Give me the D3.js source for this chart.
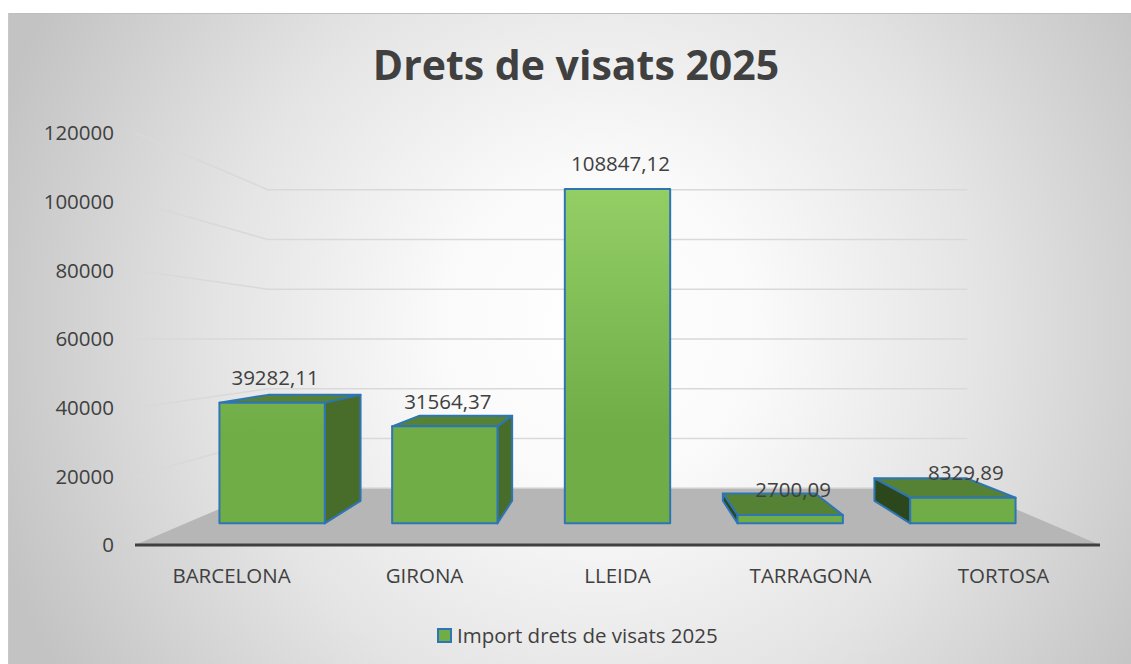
<!DOCTYPE html>
<html>
<head>
<meta charset="utf-8">
<script src="https://cdn.jsdelivr.net/npm/d3@7"></script>
<style>
  body { margin: 0; background: #fff; }
  text { font-family: "Open Sans", sans-serif; fill: #404040; }
</style>
</head>
<body>
<div id="chart"></div>
<script>
// Dades
const categories = ["BARCELONA", "GIRONA", "LLEIDA", "TARRAGONA", "TORTOSA"];
const values = [39282.11, 31564.37, 108847.12, 2700.09, 8329.89];
const yTicks = [0, 20000, 40000, 60000, 80000, 100000, 120000];
const seriesName = "Import drets de visats 2025";
const title = "Drets de visats 2025";

const W = 1131, H = 664;

// front plane of the 3D box
const left = 135, right = 1100, floorY = 545;
const backScale = 0.725;              // size of back wall relative to front
const depthK = 1 / backScale - 1;
const zFront = 0.31, zBack = 0.72;    // bar depth inside the floor

const svg = d3.select("#chart").append("svg")
  .attr("width", W).attr("height", H);

const defs = svg.append("defs");

const bg = defs.append("radialGradient")
  .attr("id", "bg-grad")
  .attr("gradientUnits", "userSpaceOnUse")
  .attr("cx", 600).attr("cy", 330).attr("r", 640);
[[0, "#ffffff"], [0.25, "#fafafa"], [0.6, "#e4e4e4"], [1, "#c3c3c3"]].forEach(([o, c]) => {
  bg.append("stop").attr("offset", o).attr("stop-color", c);
});

const frontGrad = defs.append("linearGradient")
  .attr("id", "front-grad")
  .attr("gradientUnits", "userSpaceOnUse")
  .attr("x1", 0).attr("x2", 0).attr("y1", 185).attr("y2", 430);
frontGrad.append("stop").attr("offset", 0).attr("stop-color", "#94cf66");
frontGrad.append("stop").attr("offset", 1).attr("stop-color", "#70ad47");

// Background
svg.append("rect")
  .attr("x", 8).attr("y", 13)
  .attr("width", W - 8).attr("height", H - 13)
  .attr("fill", "url(#bg-grad)");
svg.append("line")
  .attr("x1", 8).attr("x2", W).attr("y1", 13.5).attr("y2", 13.5)
  .attr("stroke", "#bfbfbf").attr("stroke-width", 1);
svg.append("line")
  .attr("x1", 8.5).attr("x2", 8.5).attr("y1", 13).attr("y2", H)
  .attr("stroke", "#c8c8c8").attr("stroke-width", 1);

// Scales
const x = d3.scaleBand()
  .domain(categories)
  .range([left, right])
  .paddingInner(0.39)
  .paddingOuter(0.195);

const y = d3.scaleLinear()
  .domain([0, 120000])
  .range([0, floorY - 133]);

const vx = (left + right) / 2;
const vy = floorY - y(60000);

// world (X, height, depth) -> screen
function proj(X, h, z) {
  const s = 1 / (1 + depthK * z);
  return [vx + (X - vx) * s, vy + (floorY - h - vy) * s];
}

const line = d3.line();

// Floor
svg.append("path")
  .attr("d", line([proj(left, 0, 0), proj(left, 0, 1), proj(right, 0, 1), proj(right, 0, 0)]) + "Z")
  .attr("fill", "#b6b6b6");
svg.append("path")
  .attr("d", line([proj(left, 0, 1), proj(right, 0, 1)]))
  .attr("stroke", "#cfcfcf").attr("stroke-width", 1.5).attr("fill", "none");

// Gridlines: left wall + back wall
yTicks.filter(t => t > 0).forEach(t => {
  svg.append("path")
    .attr("d", line([proj(left, y(t), 0), proj(left, y(t), 1), proj(right, y(t), 1)]))
    .attr("fill", "none")
    .attr("stroke", "#d9d9d9")
    .attr("stroke-width", 1.5);
});

// Axis line
svg.append("line")
  .attr("x1", left).attr("x2", right)
  .attr("y1", floorY).attr("y2", floorY)
  .attr("stroke", "#404040").attr("stroke-width", 3);

// Y labels
svg.selectAll(".ytick")
  .data(yTicks)
  .join("text")
  .attr("class", "ytick")
  .attr("x", 114)
  .attr("y", d => floorY - y(d))
  .attr("dy", "0.36em")
  .attr("text-anchor", "end")
  .attr("font-size", 20.5)
  .text(d => d);

// Bars
const outline = "#2e75b6";
const bars = svg.append("g");

categories.forEach((c, i) => {
  const h = y(values[i]);
  const x0 = x(c), x1 = x(c) + x.bandwidth();
  const g = bars.append("g");

  // top face, only when under eye level
  if (floorY - h > vy) {
    g.append("path")
      .attr("d", line([proj(x0, h, zFront), proj(x1, h, zFront), proj(x1, h, zBack), proj(x0, h, zBack)]) + "Z")
      .attr("fill", "#558234")
      .attr("stroke", outline).attr("stroke-width", 2).attr("stroke-linejoin", "round");
  }
  // side faces
  if (x1 < vx) {
    g.append("path")
      .attr("d", line([proj(x1, 0, zFront), proj(x1, h, zFront), proj(x1, h, zBack), proj(x1, 0, zBack)]) + "Z")
      .attr("fill", "#486d2b")
      .attr("stroke", outline).attr("stroke-width", 2).attr("stroke-linejoin", "round");
  } else if (x0 > vx) {
    g.append("path")
      .attr("d", line([proj(x0, 0, zFront), proj(x0, h, zFront), proj(x0, h, zBack), proj(x0, 0, zBack)]) + "Z")
      .attr("fill", "#2c471c")
      .attr("stroke", outline).attr("stroke-width", 2).attr("stroke-linejoin", "round");
  }
  // front face
  g.append("path")
    .attr("d", line([proj(x0, 0, zFront), proj(x0, h, zFront), proj(x1, h, zFront), proj(x1, 0, zFront)]) + "Z")
    .attr("fill", "url(#front-grad)")
    .attr("stroke", outline).attr("stroke-width", 2).attr("stroke-linejoin", "round");
});

// Data labels
categories.forEach((c, i) => {
  const p = proj(x(c) + x.bandwidth() / 2, y(values[i]), zFront);
  svg.append("text")
    .attr("x", p[0] + 3)
    .attr("y", p[1] - 25)
    .attr("dy", "0.36em")
    .attr("text-anchor", "middle")
    .attr("font-size", 20.5)
    .text(values[i].toFixed(2).replace(".", ","));
});

// Category labels
svg.selectAll(".xlab")
  .data(categories)
  .join("text")
  .attr("class", "xlab")
  .attr("x", d => x(d) + x.bandwidth() / 2)
  .attr("y", 583)
  .attr("text-anchor", "middle")
  .attr("font-size", 20.5)
  .text(d => d);

// Title
svg.append("text")
  .attr("x", 576).attr("y", 80)
  .attr("text-anchor", "middle")
  .attr("font-size", 41)
  .attr("font-weight", 700)
  .text(title);

// Legend
svg.append("rect")
  .attr("x", 438).attr("y", 629)
  .attr("width", 13).attr("height", 13)
  .attr("fill", "#70ad47")
  .attr("stroke", outline).attr("stroke-width", 2);
svg.append("text")
  .attr("x", 457).attr("y", 643)
  .attr("font-size", 20.5)
  .text(seriesName);
</script>
</body>
</html>
